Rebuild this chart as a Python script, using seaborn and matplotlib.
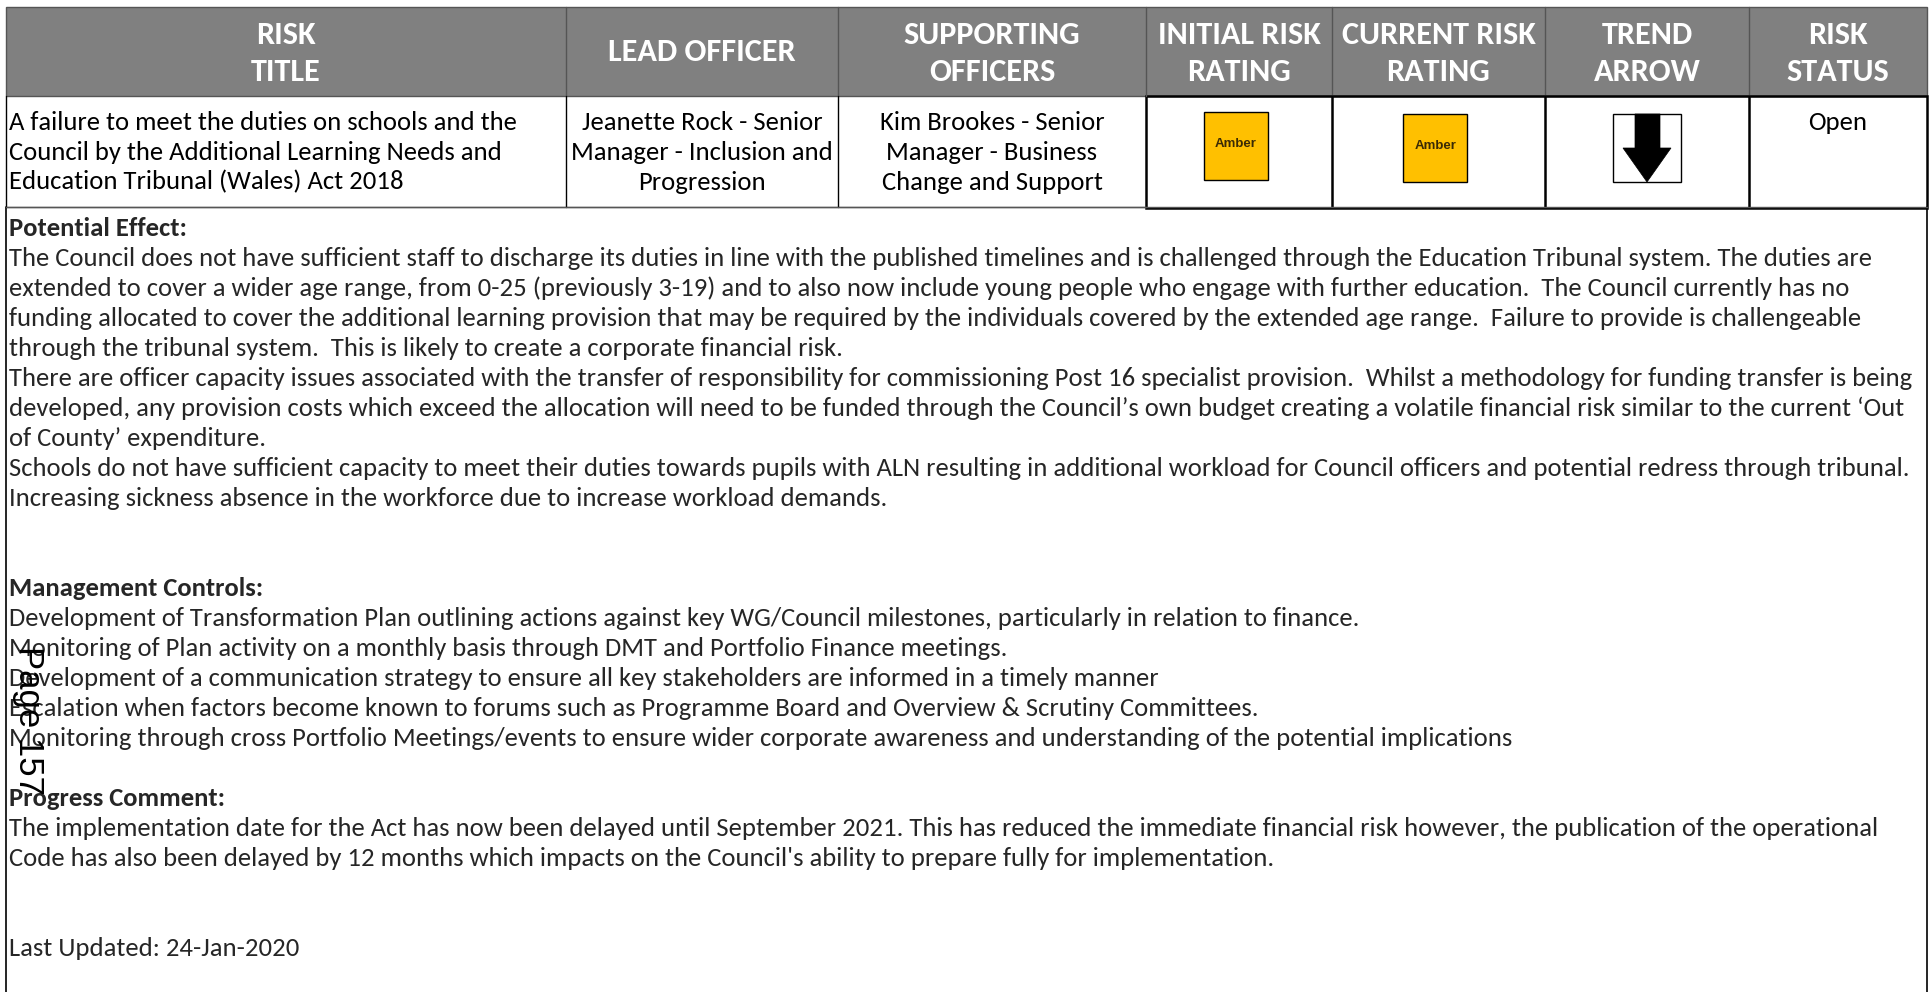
import matplotlib
matplotlib.use("Agg")
import matplotlib.pyplot as plt
import seaborn as sns
from matplotlib import font_manager
from matplotlib.patches import Rectangle, Polygon

# ------------------------------------------------------------
# Data (text content of the risk register sheet)
# ------------------------------------------------------------
header_labels = ["RISK\nTITLE", "LEAD OFFICER", "SUPPORTING\nOFFICERS",
                 "INITIAL RISK\nRATING", "CURRENT RISK\nRATING",
                 "TREND\nARROW", "RISK\nSTATUS"]
risk_title = ["A failure to meet the duties on schools and the",
              "Council by the Additional Learning Needs and",
              "Education Tribunal (Wales) Act 2018"]
lead_officer = ["Jeanette Rock - Senior", "Manager - Inclusion and", "Progression"]
supporting_officers = ["Kim Brookes - Senior", "Manager - Business", "Change and Support"]
initial_rating = "Amber"
current_rating = "Amber"
trend = "down"
risk_status = "Open"

potential_effect = [
    "The Council does not have sufficient staff to discharge its duties in line with the published timelines and is challenged through the Education Tribunal system. The duties are",
    "extended to cover a wider age range, from 0-25 (previously 3-19) and to also now include young people who engage with further education.  The Council currently has no",
    "funding allocated to cover the additional learning provision that may be required by the individuals covered by the extended age range.  Failure to provide is challengeable",
    "through the tribunal system.  This is likely to create a corporate financial risk.",
    "There are officer capacity issues associated with the transfer of responsibility for commissioning Post 16 specialist provision.  Whilst a methodology for funding transfer is being",
    "developed, any provision costs which exceed the allocation will need to be funded through the Council\u2019s own budget creating a volatile financial risk similar to the current \u2018Out",
    "of County\u2019 expenditure.",
    "Schools do not have sufficient capacity to meet their duties towards pupils with ALN resulting in additional workload for Council officers and potential redress through tribunal.",
    "Increasing sickness absence in the workforce due to increase workload demands.",
]
management_controls = [
    "Development of Transformation Plan outlining actions against key WG/Council milestones, particularly in relation to finance.",
    "Monitoring of Plan activity on a monthly basis through DMT and Portfolio Finance meetings.",
    "Development of a communication strategy to ensure all key stakeholders are informed in a timely manner",
    "Escalation when factors become known to forums such as Programme Board and Overview & Scrutiny Committees.",
    "Monitoring through cross Portfolio Meetings/events to ensure wider corporate awareness and understanding of the potential implications",
]
progress_comment = [
    "The implementation date for the Act has now been delayed until September 2021. This has reduced the immediate financial risk however, the publication of the operational",
    "Code has also been delayed by 12 months which impacts on the Council's ability to prepare fully for implementation.",
]
last_updated = "Last Updated: 24-Jan-2020"
page_label = "Page 157"

# ------------------------------------------------------------
# Layout (pixel coordinates of a 1933 x 992 page)
# ------------------------------------------------------------
W, H = 1933, 992
col_edges = [6, 566, 838, 1146, 1332, 1545, 1749, 1927]
head_top, head_bot, row_bot = 7, 96, 207
line_gap = 30
pe_y = 228
mc_y = pe_y + line_gap * 12
pc_y = mc_y + line_gap * 7
lu_y = pc_y + line_gap * 5

sns.set_theme(style="white")
names = {f.name for f in font_manager.fontManager.ttflist}
body_font = next((f for f in ["Carlito", "Lato", "Open Sans", "DejaVu Sans"] if f in names), "DejaVu Sans")
plt.rcParams["font.family"] = [body_font, "DejaVu Sans"]

fig = plt.figure(figsize=(W / 100, H / 100), dpi=100)
ax = fig.add_axes([0, 0, 1, 1])
ax.set_xlim(0, W)
ax.set_ylim(H, 0)
ax.axis("off")
renderer = fig.canvas.get_renderer()


def text_width(s, size=12, **kw):
    t = ax.text(0, 0, s, fontsize=size, **kw)
    w = t.get_window_extent(renderer).width
    t.remove()
    return w


# size the body text so the longest line fills the box width
widest = max(text_width(s) for s in potential_effect + management_controls + progress_comment)
body_size = 12 * 1900 / widest
head_size = 12 * 194 / text_width("CURRENT RISK", fontweight="bold")

# header band
ax.add_patch(Rectangle((col_edges[0], head_top), col_edges[-1] - col_edges[0], head_bot - head_top,
                       facecolor="#808080", edgecolor="#555555", lw=1))
for x in col_edges[1:-1]:
    ax.plot([x, x], [head_top, head_bot], color="#555555", lw=1)
for i, lab in enumerate(header_labels):
    cx = (col_edges[i] + col_edges[i + 1]) / 2
    parts = lab.split("\n")
    ys = [52] if len(parts) == 1 else [35, 72]
    for part, y in zip(parts, ys):
        ax.text(cx, y, part, color="white", fontsize=head_size, fontweight="bold",
                ha="center", va="center")

# first row cells
ax.plot([col_edges[0], col_edges[3]], [row_bot, row_bot], color="#555555", lw=1)
for x in col_edges[:3]:
    ax.plot([x, x], [head_bot, row_bot], color="black", lw=1)
ax.add_patch(Rectangle((col_edges[3], head_bot), col_edges[-1] - col_edges[3], row_bot - head_bot + 1,
                       facecolor="none", edgecolor="black", lw=1.8))
for x in col_edges[4:-1]:
    ax.plot([x, x], [head_bot, row_bot], color="black", lw=1.8)

row_ys = [122, 152, 182]
for s, y in zip(risk_title, row_ys):
    ax.text(col_edges[0] + 3, y, s, fontsize=body_size, ha="left", va="center", color="black")
for col, lines in ((1, lead_officer), (2, supporting_officers)):
    cx = (col_edges[col] + col_edges[col + 1]) / 2
    for s, y in zip(lines, row_ys):
        ax.text(cx, y, s, fontsize=body_size, ha="center", va="center", color="black")

# rating boxes
for col, rating, y0 in ((3, initial_rating, 112), (4, current_rating, 114)):
    cx = (col_edges[col] + col_edges[col + 1]) / 2 - 3
    ax.add_patch(Rectangle((cx - 32, y0), 64, 68, facecolor="#FFC000", edgecolor="black", lw=1))
    ax.text(cx, y0 + 32, rating, fontsize=9.5, fontweight="bold", family="Liberation Sans",
            color="#3a2a05", ha="center", va="center")

# trend arrow
ax_c = (col_edges[5] + col_edges[6]) / 2
ax.add_patch(Rectangle((ax_c - 34, 114), 68, 68, facecolor="white", edgecolor="black", lw=1))
if trend == "down":
    arrow = [(ax_c - 12, 114), (ax_c + 13, 114), (ax_c + 13, 148), (ax_c + 24, 148),
             (ax_c, 182), (ax_c - 24, 148), (ax_c - 12, 148)]
    ax.add_patch(Polygon(arrow, closed=True, facecolor="black", edgecolor="black", lw=0.5))

ax.text((col_edges[6] + col_edges[7]) / 2, 122, risk_status, fontsize=body_size,
        ha="center", va="center", color="black")

# lower text box
ax.plot([col_edges[0], col_edges[0]], [row_bot, H], color="black", lw=1.2)
ax.plot([col_edges[-1], col_edges[-1]], [row_bot, H], color="black", lw=1.2)
ax.plot([col_edges[0], col_edges[-1]], [row_bot, row_bot], color="#555555", lw=1)

tx = col_edges[0] + 3
for title, lines, y0 in (("Potential Effect:", potential_effect, pe_y),
                         ("Management Controls:", management_controls, mc_y),
                         ("Progress Comment:", progress_comment, pc_y)):
    ax.text(tx, y0, title, fontsize=body_size, fontweight="bold", ha="left", va="center")
    for k, s in enumerate(lines):
        ax.text(tx, y0 + line_gap * (k + 1), s, fontsize=body_size, ha="left", va="center")
ax.text(tx, lu_y, last_updated, fontsize=body_size, ha="left", va="center")

# page stamp overlapping the text, as in the scanned sheet
ax.text(28, 720, page_label, fontsize=25, family="Liberation Sans", rotation=-90,
        ha="center", va="center", color="black")

fig.savefig("out.png", dpi=100)
